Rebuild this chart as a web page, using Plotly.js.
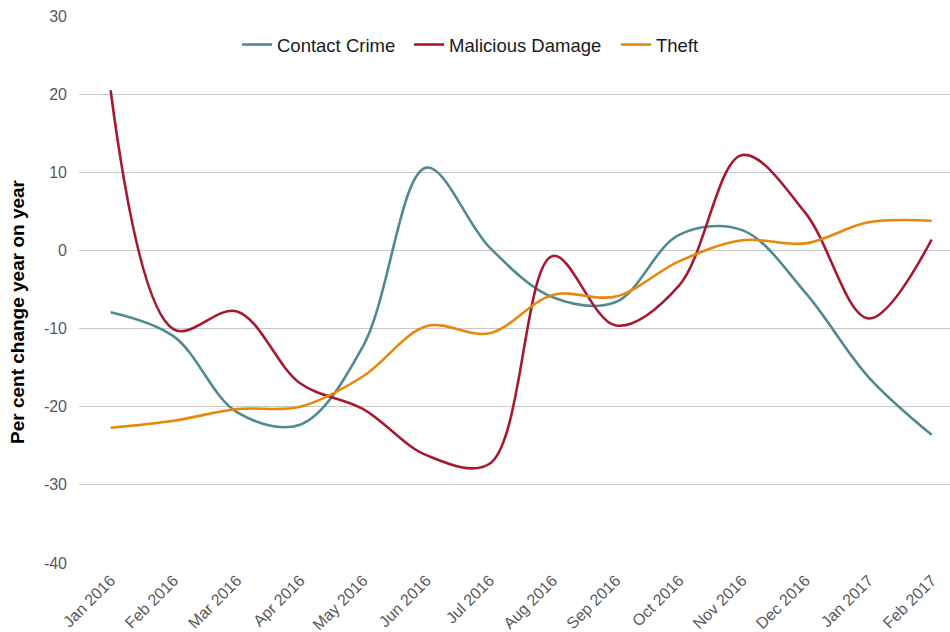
<!DOCTYPE html>
<html>
<head>
<meta charset="utf-8">
<script src="https://cdn.plot.ly/plotly-3.0.1.min.js"></script>
<style>html,body{margin:0;padding:0;background:#fff;}#chart{width:950px;height:632px;}</style>
</head>
<body>
<div id="chart"></div>
<script>
const months = ["Jan 2016","Feb 2016","Mar 2016","Apr 2016","May 2016","Jun 2016","Jul 2016","Aug 2016","Sep 2016","Oct 2016","Nov 2016","Dec 2016","Jan 2017","Feb 2017"];
const contactCrime = [-7.9, -11.0, -20.7, -22.3, -12.2, 10.6, 0.4, -6.0, -6.6, 2.0, 2.6, -5.4, -16.2, -23.6];
const maliciousDamage = [20.5, -10.1, -7.8, -17.0, -20.3, -26.2, -27.3, -0.7, -9.6, -4.5, 12.2, 4.8, -8.7, 1.4];
const theft = [-22.7, -21.8, -20.3, -20.0, -16.1, -9.7, -10.6, -5.7, -5.9, -1.4, 1.3, 0.9, 3.6, 3.8];
const seriesNames = ["Contact Crime", "Malicious Damage", "Theft"];
const seriesColors = ["#508A91", "#A6192E", "#E8870A"];
const yTicks = [-40, -30, -20, -10, 0, 10, 20, 30];
const yTickLabels = ["-40", "-30", "-20", "-10", "0", "10", "20", "30"];
const yTitle = "Per cent change year on year";

const allSeries = [contactCrime, maliciousDamage, theft];
const legendIds = ["legend", "legend2", "legend3"];
const traces = allSeries.map((vals, i) => ({
  type: "scatter",
  mode: "lines",
  name: seriesNames[i],
  legend: legendIds[i],
  x: months,
  y: vals,
  line: {color: seriesColors[i], width: 2.6, shape: "spline", smoothing: 1.0},
  hoverinfo: "x+y+name"
}));

const legendFont = {family: "Liberation Sans, Arial, sans-serif", size: 18.5, color: "#1a1a1a"};
function mkLegend(x) {
  return {orientation: "h", x: x, xanchor: "left", y: 0.947, yanchor: "middle",
          font: legendFont, bgcolor: "rgba(0,0,0,0)", itemwidth: 30};
}

const layout = {
  width: 950, height: 632,
  margin: {l: 79, r: 0, t: 16, b: 69},
  paper_bgcolor: "#fff", plot_bgcolor: "#fff",
  font: {family: "Liberation Sans, Arial, sans-serif", color: "#595959", size: 16},
  showlegend: true,
  legend: mkLegend(0.1814),
  legend2: mkLegend(0.379),
  legend3: mkLegend(0.6165),
  xaxis: {
    type: "category",
    range: [-0.5, 13.29],
    showgrid: false, zeroline: false, showline: false,
    ticks: "", tickangle: -45, ticklabelstandoff: 4,
    tickfont: {size: 16, color: "#595959"}
  },
  yaxis: {
    range: [-40, 30],
    tickmode: "array",
    tickvals: yTicks,
    ticktext: yTickLabels,
    showgrid: true, gridcolor: "#c8c8c8", gridwidth: 1.2,
    zeroline: false, showline: false, ticks: "",
    ticklabelstandoff: 11,
    tickfont: {size: 16, color: "#595959"}
  },
  annotations: [{
    text: yTitle, textangle: -90, showarrow: false,
    xref: "paper", yref: "paper",
    x: (17 - 79) / 871, y: 1 - (312 - 16) / 547,
    xanchor: "center", yanchor: "middle",
    font: {size: 19, color: "#000", family: "Liberation Sans, Arial, sans-serif", weight: "bold"}
  }]
};

Plotly.newPlot("chart", traces, layout, {displayModeBar: false, staticPlot: true});
</script>
</body>
</html>
